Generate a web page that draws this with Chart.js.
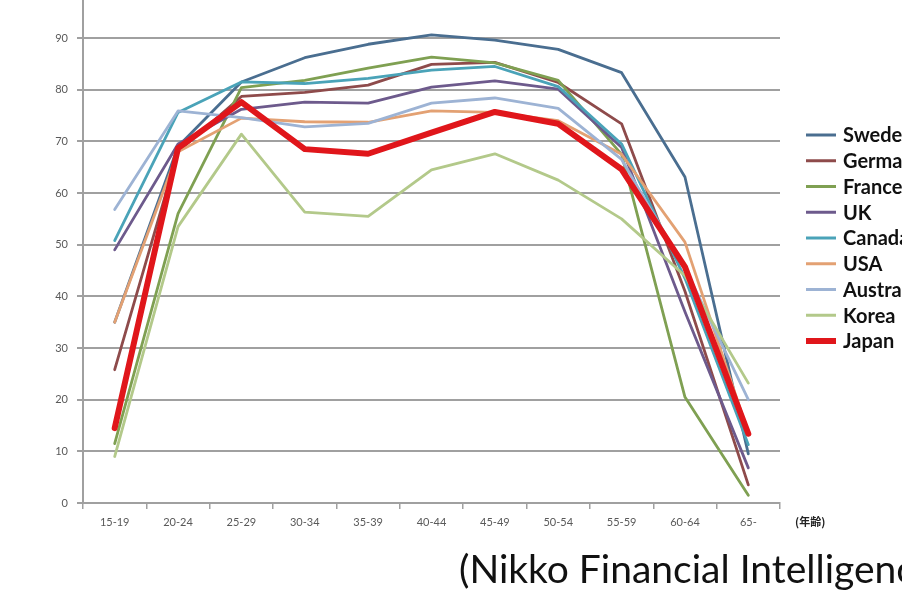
<!DOCTYPE html>
<html>
<head>
<meta charset="utf-8">
<script src="https://cdn.jsdelivr.net/npm/chart.js@4.4.1/dist/chart.umd.min.js"></script>
<style>
  html, body { margin: 0; padding: 0; background: #ffffff; overflow: hidden; width: 902px; height: 606px; }
  #wrap { position: absolute; left: 0; top: -30px; width: 902px; height: 640px; }
  #src { position: absolute; left: 459px; top: 545px; font-family: Lato, "Open Sans", sans-serif; font-size: 39px; line-height: 46px; color: #111; white-space: nowrap; }
</style>
</head>
<body>
<div id="wrap"><canvas id="c" width="902" height="640"></canvas></div>
<div id="src">(Nikko Financial Intelligence)</div>
<script>
// Female labour force participation rate by age group (%)
const ageGroups = ['15-19','20-24','25-29','30-34','35-39','40-44','45-49','50-54','55-59','60-64','65-'];
const countries = ['Sweden','Germany','France','UK','Canada','USA','Australia','Korea','Japan'];

const sweden    = [35.0, 69.0, 81.5, 86.2, 88.8, 90.6, 89.6, 87.8, 83.3, 63.1, 9.5];
const germany   = [25.8, 68.0, 78.7, 79.5, 80.9, 84.9, 85.3, 81.4, 73.4, 41.0, 3.5];
const france    = [11.5, 56.0, 80.4, 81.8, 84.2, 86.3, 85.2, 81.8, 67.5, 20.5, 1.5];
const uk        = [49.0, 69.5, 76.2, 77.6, 77.4, 80.5, 81.7, 80.1, 68.8, 37.0, 6.8];
const canada    = [50.8, 75.6, 81.5, 81.2, 82.2, 83.8, 84.5, 80.6, 69.5, 43.5, 11.3];
const usa       = [35.0, 68.0, 74.5, 73.8, 73.7, 75.9, 75.6, 74.0, 67.5, 50.5, 13.5];
const australia = [56.8, 75.9, 74.6, 72.8, 73.5, 77.4, 78.4, 76.4, 66.5, 45.5, 20.0];
const korea     = [9.0, 53.5, 71.4, 56.3, 55.5, 64.5, 67.6, 62.5, 55.0, 44.0, 23.2];
const japan     = [14.5, 68.7, 77.6, 68.5, 67.6, 71.7, 75.7, 73.4, 64.6, 45.7, 13.4];

const yTicks = [0, 10, 20, 30, 40, 50, 60, 70, 80, 90, 100];
const axisUnit = '(年齢)';

const seriesValues = [sweden, germany, france, uk, canada, usa, australia, korea, japan];
const seriesColors = ['#4a6e90','#8e4b4b','#7fa052','#6d5a8c','#4aa3b8','#e3a173','#9db3d4','#b3c98a','#e0161b'];
const seriesWidths = [2.8, 2.8, 2.8, 2.8, 2.8, 2.8, 2.8, 2.8, 6];

const datasets = countries.map((name, i) => ({
  label: name,
  data: seriesValues[i],
  borderColor: seriesColors[i],
  backgroundColor: seriesColors[i],
  borderWidth: seriesWidths[i],
  pointRadius: 0,
  pointHoverRadius: 0,
  tension: 0,
  fill: false,
  borderJoinStyle: 'round',
  borderCapStyle: 'round',
  order: -i
}));

// Legend on the right plus the unit label under the x axis
const sideLegend = {
  id: 'sideLegend',
  afterDraw(chart) {
    const ctx = chart.ctx;
    ctx.save();
    const x0 = 806, x1 = 836, tx = 843, y0 = 165, step = 25.75;
    chart.data.datasets.forEach((ds, i) => {
      const y = y0 + step * i;
      ctx.strokeStyle = ds.borderColor;
      ctx.lineWidth = ds.borderWidth > 3 ? 6 : 3;
      ctx.lineCap = 'butt';
      ctx.beginPath();
      ctx.moveTo(x0, y);
      ctx.lineTo(x1, y);
      ctx.stroke();
      ctx.fillStyle = '#111111';
      ctx.font = 'bold 20px Lato, "Open Sans", sans-serif';
      ctx.textBaseline = 'middle';
      ctx.textAlign = 'left';
      ctx.fillText(ds.label, tx, y + 1);
    });
    ctx.font = 'bold 11px "Noto Sans CJK JP", sans-serif';
    ctx.fillStyle = '#222222';
    ctx.textBaseline = 'middle';
    ctx.fillText(axisUnit, 795, chart.chartArea.bottom + 19);
    ctx.restore();
  }
};

const whiteBg = {
  id: 'whiteBg',
  beforeDraw(chart) {
    const ctx = chart.ctx;
    ctx.save();
    ctx.fillStyle = '#ffffff';
    ctx.fillRect(0, 0, chart.width, chart.height);
    ctx.restore();
  }
};

new Chart(document.getElementById('c'), {
  type: 'line',
  data: { labels: ageGroups, datasets },
  options: {
    responsive: false,
    devicePixelRatio: 1,
    animation: false,
    layout: { padding: { left: 0, right: 122, top: 16.4, bottom: 0 } },
    plugins: { legend: { display: false }, tooltip: { enabled: false } },
    scales: {
      x: {
        type: 'category',
        offset: true,
        afterFit(s) { s.height = 107; },
        grid: { display: true, offset: true, drawOnChartArea: false, drawTicks: true, tickLength: 6, color: '#a0a0a0', lineWidth: 1.5 },
        border: { display: true, color: '#a0a0a0', width: 2 },
        ticks: { color: '#595959', font: { family: 'Lato, "Open Sans", sans-serif', size: 11 }, padding: 7, maxRotation: 0, autoSkip: false }
      },
      y: {
        min: 0,
        max: 100,
        afterFit(s) { s.width = 83; },
        afterBuildTicks(s) { s.ticks = yTicks.map(v => ({ value: v })); },
        grid: { color: '#a0a0a0', lineWidth: 2, drawTicks: true, tickLength: 6 },
        border: { display: true, color: '#a0a0a0', width: 2 },
        ticks: { color: '#595959', font: { family: 'Lato, "Open Sans", sans-serif', size: 11 }, padding: 9 }
      }
    }
  },
  plugins: [whiteBg, sideLegend]
});
</script>
</body>
</html>
